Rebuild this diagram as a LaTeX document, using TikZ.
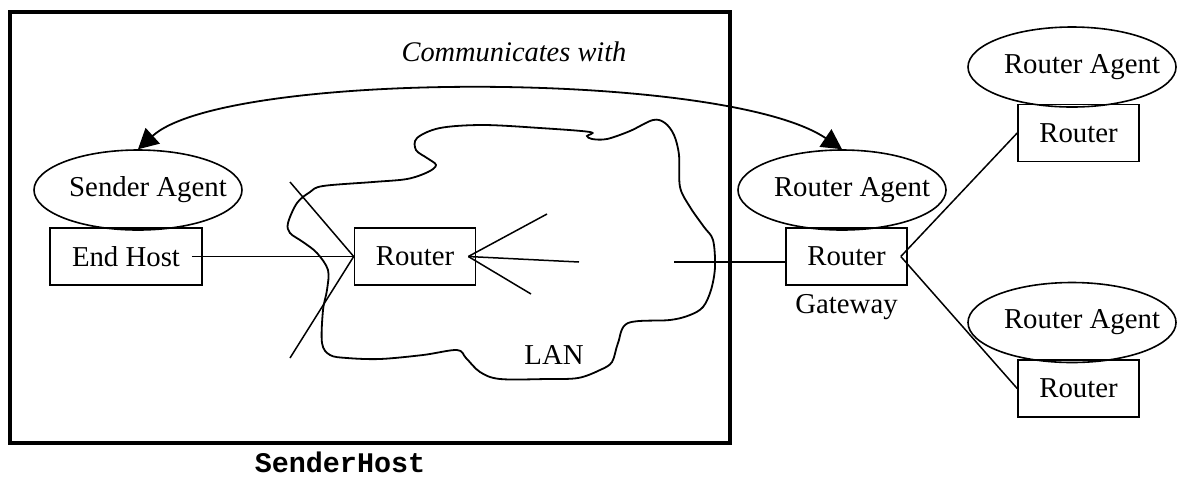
\documentclass[tikz,border=0pt]{standalone}
\usepackage{fontspec}
\setmainfont{Liberation Serif}
\setmonofont{Liberation Mono}
\usetikzlibrary{arrows.meta,shapes.geometric,positioning}

\begin{document}
\begin{tikzpicture}[x=0.5pt, y=-0.5pt,
    txt/.style={font=\fontsize{14.4}{17}\selectfont},
    box/.style={draw, txt, line width=0.8pt, minimum width=60.5pt, minimum height=28.5pt, inner sep=0pt},
    agent/.style={draw, ellipse, line width=0.8pt, minimum width=104pt, minimum height=40pt, inner sep=0pt,
      label={[txt, xshift=5pt]center:#1}},
    wire/.style={line width=0.75pt},
    arr/.style={{Triangle[length=10pt,width=10.5pt]}-{Triangle[length=10pt,width=10.5pt]}, line width=0.9pt}
]
\useasboundingbox (0,0) rectangle (1177,478);

% sender host frame
\node[draw, line width=2pt, minimum width=360pt, minimum height=215.5pt, inner sep=0pt] (host) at (370,227.5) {};
\node[font=\fontsize{14.2}{17}\selectfont\ttfamily\bfseries, inner sep=0pt] (hostname) at (340,462.5) {SenderHost};

% LAN cloud
\draw[line width=0.9pt] plot[smooth cycle, tension=0.55] coordinates {
  (417,138) (440,128) (483,125) (540,128) (590,132) (587,136) (592,139) (607,139)
  (630,131) (653,120) (665,123) (674,135) (679,155) (680,187) (690,207) (704,227)
  (713,240) (715,267) (711,290) (703,307) (690,315) (670,320) (628,323) (618,343)
  (612,362) (600,370) (578,378) (547,379) (500,379) (480,372) (466,358) (457,350)
  (423,355) (380,359) (347,358) (330,355) (322,343) (323,310) (327,290) (328,270)
  (317,253) (303,242) (290,233) (288,223) (297,203) (310,192) (323,186) (373,182)
  (407,179) (428,172) (436,165) (427,158) (416,150)};
\node[txt] (lan) at (554,355) {LAN};

% hosts and routers
\node[agent={Sender Agent}] (sa) at (138,190) {};
\node[box, minimum width=76pt] (eh) at (126,256.5) {End Host};
\node[box] (lr) at (415,256.5) {Router};
\node[agent={Router Agent}] (ga) at (842,190) {};
\node[box] (gw) at (846.5,256.5) {Router};
\node[txt, below=1pt of gw] (gwname) {Gateway};
\node[agent={Router Agent}] (ra1) at (1072,67) {};
\node[box] (r1) at (1078.5,133) {Router};
\node[agent={Router Agent}] (ra2) at (1072,322.5) {};
\node[box] (r2) at (1078.5,388.5) {Router};

\node[font=\fontsize{14.2}{17}\selectfont\itshape] (comm) at (514,52) {Communicates with};
\draw[arr] (sa.north) .. controls (225,70) and (725,70) .. (ga.north);

% links
\coordinate (ul) at (290,182);
\coordinate (dl) at (290,358);
\coordinate (ur) at (547,214);
\coordinate (mr) at (579,262);
\coordinate (dr) at (531,294);
\coordinate (lanout) at (674,262);

\draw[wire] ([xshift=-5.5pt]eh.east) -- (lr.west);
\draw[wire] (lr.west) -- (ul);
\draw[wire] (lr.west) -- (dl);
\foreach \c in {ur,mr,dr}
  \draw[wire] ([xshift=-4pt]lr.east) -- (\c);
\draw[wire] (lanout) -- (lanout -| gw.west);
\draw[wire] ([xshift=-3.5pt]gw.east) -- (r1.west);
\draw[wire] ([xshift=-3.5pt]gw.east) -- (r2.west);
\end{tikzpicture}
\end{document}
